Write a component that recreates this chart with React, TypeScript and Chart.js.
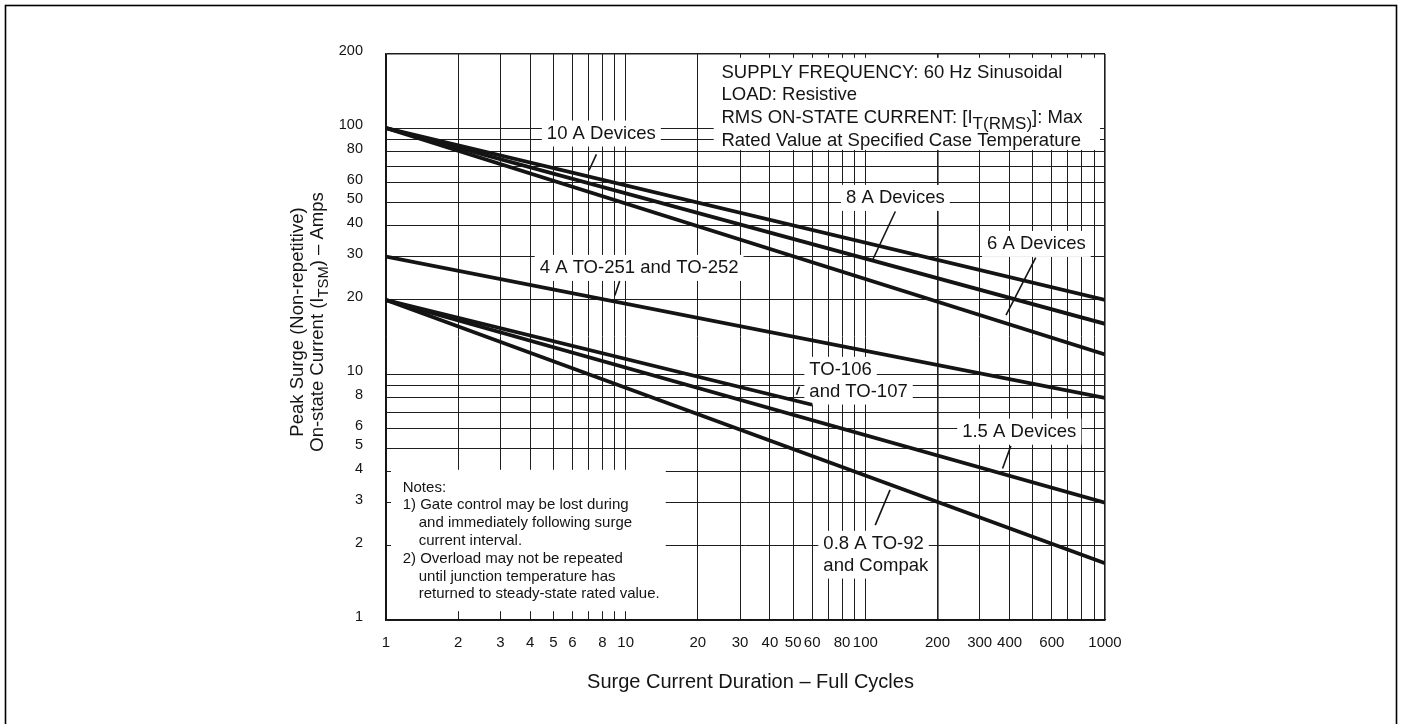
import React, { useEffect, useRef } from "react";
import { Chart, registerables } from "chart.js";

Chart.register(...registerables);

const FONT = '"Liberation Sans", Arial, Helvetica, sans-serif';
const INK = "#141414";
const GRID = "#1e1e1e";

// Surge current duration (full cycles) at the ends of each rating line
const fullRangeCycles = [1, 1000];
const to106Cycles = [1, 60];

// Peak surge on-state current (amps) at those durations
const tenAmpDevices = [100, 20];
const eightAmpDevices = [100, 16];
const sixAmpDevices = [100, 12];
const fourAmpTo251 = [30, 8];
const to106To107 = [20, 7.5];
const onePointFiveAmpDevices = [20, 3];
const pointEightAmpTo92 = [20, 1.7];

// Log grid lines and the ticks that carry a label
const xGridValues = [1, 2, 3, 4, 5, 6, 7, 8, 9, 10, 20, 30, 40, 50, 60, 70, 80, 90, 100, 200, 300, 400, 500, 600, 700, 800, 900, 1000];
const xTickLabels = [1, 2, 3, 4, 5, 6, 8, 10, 20, 30, 40, 50, 60, 80, 100, 200, 300, 400, 600, 1000];
const yGridValues = [1, 2, 3, 4, 5, 6, 7, 8, 9, 10, 20, 30, 40, 50, 60, 70, 80, 90, 100, 200];
const yTickLabels = [1, 2, 3, 4, 5, 6, 8, 10, 20, 30, 40, 50, 60, 80, 100, 200];

type Series = { key: string; cycles: number[]; amps: number[] };

const ratingLines: Series[] = [
  { key: "10A", cycles: fullRangeCycles, amps: tenAmpDevices },
  { key: "8A", cycles: fullRangeCycles, amps: eightAmpDevices },
  { key: "6A", cycles: fullRangeCycles, amps: sixAmpDevices },
  { key: "4A", cycles: fullRangeCycles, amps: fourAmpTo251 },
  { key: "TO106", cycles: to106Cycles, amps: to106To107 },
  { key: "1.5A", cycles: fullRangeCycles, amps: onePointFiveAmpDevices },
  { key: "0.8A", cycles: fullRangeCycles, amps: pointEightAmpTo92 },
];

// Curve captions: text anchored at [cycles, amps] (left edge, first line centre),
// leader drawn from a point near the caption to the named rating line.
const curveLabels = [
  { lines: ["10 A Devices"], at: [4.69, 95], leader: { from: [7.55, 78.2], toCycles: 6.86, series: "10A", gap: 6 } },
  { lines: ["8 A Devices"], at: [83.1, 52], leader: { from: [133.4, 45.8], toCycles: 107, series: "8A", gap: 0 } },
  { lines: ["6 A Devices"], at: [322, 33.8], leader: { from: [514, 29.7], toCycles: 373, series: "6A", gap: 8 } },
  { lines: ["4 A TO-251 and TO-252"], at: [4.38, 27], leader: { from: [9.44, 23.9], toCycles: 8.85, series: "4A", gap: 6 } },
  { lines: ["TO-106", "and TO-107"], at: [58.4, 10.4], leader: { from: [53.1, 8.88], toCycles: 50.6, series: "TO106", gap: 6 } },
  { lines: ["1.5 A Devices"], at: [253.6, 5.83], leader: { from: [404.6, 5.1], toCycles: 367.6, series: "1.5A", gap: 5 } },
  { lines: ["0.8 A TO-92", "and Compak"], at: [66.8, 2.04], leader: { from: [110, 2.43], toCycles: 129.2, series: "0.8A", gap: 5 } },
];

type Seg = { t: string; sub?: boolean };

const conditionLines: Seg[][] = [
  [{ t: "SUPPLY FREQUENCY: 60 Hz Sinusoidal" }],
  [{ t: "LOAD: Resistive" }],
  [{ t: "RMS ON-STATE CURRENT: [I" }, { t: "T(RMS)", sub: true }, { t: "]: Max" }],
  [{ t: "Rated Value at Specified Case Temperature" }],
];

const noteLines = [
  { t: "Notes:", indent: false },
  { t: "1) Gate control may be lost during", indent: false },
  { t: "and immediately following surge", indent: true },
  { t: "current interval.", indent: true },
  { t: "2) Overload may not be repeated", indent: false },
  { t: "until junction temperature has", indent: true },
  { t: "returned to steady-state rated value.", indent: true },
];

const yTitleLines: Seg[][] = [
  [{ t: "Peak Surge (Non-repetitive)" }],
  [{ t: "On-state Current (I" }, { t: "TSM", sub: true }, { t: ") \u2013 Amps" }],
];
const xTitle = "Surge Current Duration \u2013 Full Cycles";

// Boxes (in data units) that hide the grid behind the text blocks
const conditionsBox = { cycles: [23.3, 953], amps: [81.5, 193] };
const conditionsAnchor = [25.1, 168];
const notesBox = { cycles: [1.049, 14.7], amps: [1.086, 4.08] };
const notesAnchor = [1.174, 3.46];

const LABEL_SIZE = 18.5;

function ampsAt(s: Series, c: number) {
  const t = (Math.log(c) - Math.log(s.cycles[0])) / (Math.log(s.cycles[1]) - Math.log(s.cycles[0]));
  return Math.exp(Math.log(s.amps[0]) + t * (Math.log(s.amps[1]) - Math.log(s.amps[0])));
}

function richWidth(ctx: CanvasRenderingContext2D, segs: Seg[], size: number, subScale: number) {
  let w = 0;
  for (const s of segs) {
    ctx.font = `${s.sub ? size * subScale : size}px ${FONT}`;
    w += ctx.measureText(s.t).width;
  }
  return w;
}

function drawRich(
  ctx: CanvasRenderingContext2D,
  segs: Seg[],
  x: number,
  y: number,
  size: number,
  align: "left" | "center",
  subScale: number,
  subDrop: number
) {
  const total = richWidth(ctx, segs, size, subScale);
  let cx = align === "center" ? x - total / 2 : x;
  ctx.textAlign = "left";
  for (const s of segs) {
    ctx.font = `${s.sub ? size * subScale : size}px ${FONT}`;
    ctx.fillText(s.t, cx, y + (s.sub ? subDrop : 0));
    cx += ctx.measureText(s.t).width;
  }
}

const sheetPlugin = {
  id: "sheet",
  beforeDraw(chart: any) {
    const ctx: CanvasRenderingContext2D = chart.ctx;
    ctx.save();
    ctx.fillStyle = "#ffffff";
    ctx.fillRect(0, 0, chart.width, chart.height);
    ctx.strokeStyle = "#000000";
    ctx.lineWidth = 1.6;
    ctx.strokeRect(5.5, 5.5, 1391, 900);
    ctx.restore();
  },
  beforeDatasetsDraw(chart: any) {
    const ctx: CanvasRenderingContext2D = chart.ctx;
    const xs = chart.scales.x;
    const ys = chart.scales.y;
    const X = (v: number) => xs.getPixelForValue(v);
    const Y = (v: number) => ys.getPixelForValue(v);
    ctx.save();

    // Text block boxes
    ctx.fillStyle = "#ffffff";
    for (const b of [conditionsBox, notesBox]) {
      const l = X(b.cycles[0]);
      const r = X(b.cycles[1]);
      const t = Y(b.amps[1]);
      const bt = Y(b.amps[0]);
      ctx.fillRect(l, t, r - l, bt - t);
    }

    // Caption backgrounds
    ctx.font = `${LABEL_SIZE}px ${FONT}`;
    for (const lab of curveLabels) {
      const lx = X(lab.at[0]);
      const ly = Y(lab.at[1]);
      lab.lines.forEach((t, i) => {
        const w = ctx.measureText(t).width;
        ctx.fillRect(lx - 5, ly + i * 21.7 - 13, w + 10, 26);
      });
    }

    // Caption text
    ctx.fillStyle = INK;
    ctx.textBaseline = "middle";
    ctx.textAlign = "left";
    for (const lab of curveLabels) {
      const lx = X(lab.at[0]);
      const ly = Y(lab.at[1]);
      lab.lines.forEach((t, i) => ctx.fillText(t, lx, ly + i * 21.7));
    }

    // Test conditions
    const cx = X(conditionsAnchor[0]);
    const cy = Y(conditionsAnchor[1]);
    conditionLines.forEach((segs, i) => {
      drawRich(ctx, segs, cx, cy + i * 22.6, LABEL_SIZE, "left", 0.92, 6);
    });

    // Notes
    const nx = X(notesAnchor[0]);
    const ny = Y(notesAnchor[1]);
    ctx.font = `15px ${FONT}`;
    noteLines.forEach((n, i) => {
      ctx.fillText(n.t, nx + (n.indent ? 16 : 0), ny + i * 17.8);
    });
    ctx.restore();
  },
  afterDatasetsDraw(chart: any) {
    const ctx: CanvasRenderingContext2D = chart.ctx;
    const xs = chart.scales.x;
    const ys = chart.scales.y;
    ctx.save();
    ctx.strokeStyle = INK;
    ctx.lineWidth = 1.6;
    for (const lab of curveLabels) {
      const ld = lab.leader;
      const s = ratingLines.find((r) => r.key === ld.series)!;
      const sx = xs.getPixelForValue(ld.from[0]);
      const sy = ys.getPixelForValue(ld.from[1]);
      const ex = xs.getPixelForValue(ld.toCycles);
      const ey = ys.getPixelForValue(ampsAt(s, ld.toCycles));
      const len = Math.hypot(ex - sx, ey - sy);
      const k = (len - ld.gap) / len;
      ctx.beginPath();
      ctx.moveTo(sx, sy);
      ctx.lineTo(sx + (ex - sx) * k, sy + (ey - sy) * k);
      ctx.stroke();
    }
    ctx.restore();
  },
  afterDraw(chart: any) {
    const ctx: CanvasRenderingContext2D = chart.ctx;
    const area = chart.chartArea;
    ctx.save();
    ctx.fillStyle = INK;
    ctx.textBaseline = "alphabetic";
    // Vertical axis title, two rotated lines
    const midY = 322;
    const baselines = [303, 323];
    yTitleLines.forEach((segs, i) => {
      ctx.save();
      ctx.translate(baselines[i], midY);
      ctx.rotate(-Math.PI / 2);
      drawRich(ctx, segs, 0, 0, LABEL_SIZE, "center", 0.8, 5);
      ctx.restore();
    });
    // Horizontal axis title
    ctx.font = `20px ${FONT}`;
    ctx.textAlign = "center";
    ctx.textBaseline = "middle";
    ctx.fillText(xTitle, (area.left + area.right) / 2 + 5, 682);
    ctx.restore();
  },
};

export default function App() {
  const canvasRef = useRef<HTMLCanvasElement>(null);

  useEffect(() => {
    const canvas = canvasRef.current;
    if (!canvas) return;
    const edgeWidth = (c: any) => (c.tick && (c.tick.value === 200 || c.tick.value === 1000) ? 1.6 : 1);
    const chart = new Chart(canvas, {
      type: "line",
      data: {
        datasets: ratingLines.map((s) => ({
          label: s.key,
          data: s.cycles.map((c, i) => ({ x: c, y: s.amps[i] })),
          borderColor: INK,
          borderWidth: 3.8,
          pointRadius: 0,
          fill: false,
          tension: 0,
        })),
      },
      options: {
        responsive: false,
        animation: false,
        devicePixelRatio: 1,
        events: [],
        layout: { padding: { left: 0, top: 54, right: 299, bottom: 0 } },
        plugins: {
          legend: { display: false },
          tooltip: { enabled: false },
          title: { display: false },
        },
        scales: {
          x: {
            type: "logarithmic",
            position: "bottom",
            min: 1,
            max: 1000,
            afterBuildTicks: (s: any) => {
              s.ticks = xGridValues.map((v) => ({ value: v }));
            },
            afterFit: (s: any) => {
              s.height = 104;
            },
            grid: { color: GRID, lineWidth: edgeWidth, drawTicks: false },
            border: { display: true, color: INK, width: 1.6 },
            ticks: {
              autoSkip: false,
              maxRotation: 0,
              minRotation: 0,
              padding: 14,
              color: INK,
              font: { family: FONT, size: 15 },
              callback: (v: any) => (xTickLabels.includes(Number(v)) ? String(v) : ""),
            },
          },
          y: {
            type: "logarithmic",
            position: "left",
            min: 1,
            max: 200,
            afterBuildTicks: (s: any) => {
              s.ticks = yGridValues.map((v) => ({ value: v }));
            },
            afterFit: (s: any) => {
              s.width = 386;
            },
            grid: { color: GRID, lineWidth: edgeWidth, drawTicks: false },
            border: { display: true, color: INK, width: 1.6 },
            ticks: {
              autoSkip: false,
              padding: 23,
              labelOffset: -3,
              color: INK,
              font: { family: FONT, size: 14.5 },
              callback: (v: any) => (yTickLabels.includes(Number(v)) ? String(v) : ""),
            },
          },
        },
      } as any,
      plugins: [sheetPlugin],
    });
    return () => chart.destroy();
  }, []);

  return (
    <div style={{ position: "fixed", left: 0, top: 0, width: 1404, height: 724, background: "#fff" }}>
      <canvas ref={canvasRef} width={1404} height={724} style={{ display: "block", width: 1404, height: 724 }} />
    </div>
  );
}
